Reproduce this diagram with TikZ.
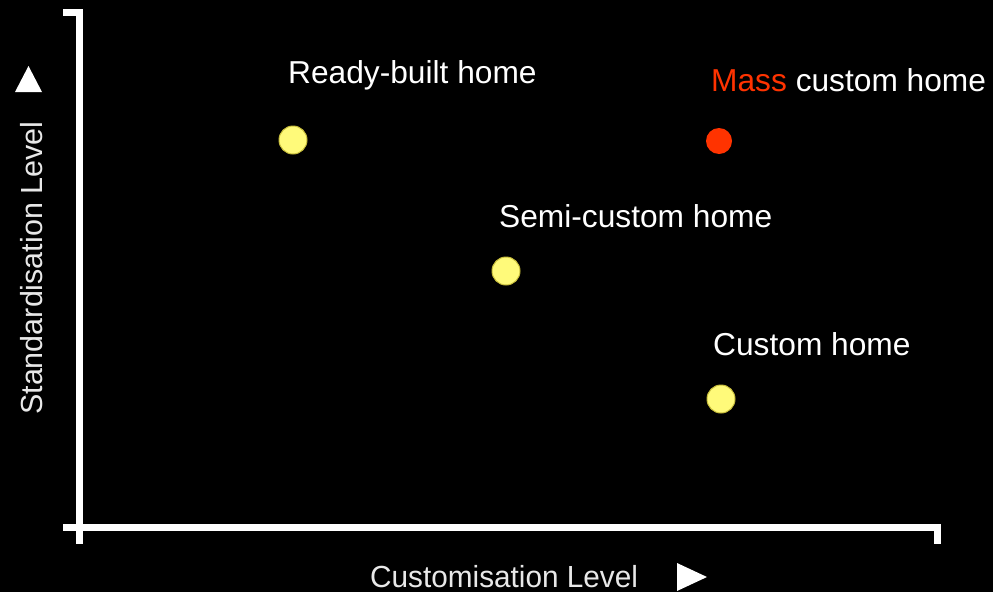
\documentclass[tikz,border=0pt]{standalone}
\usepackage{fontspec}
\setmainfont{Liberation Sans}
\definecolor{dotyellow}{RGB}{255,250,122}
\definecolor{dotedge}{RGB}{200,190,60}
\definecolor{massred}{RGB}{255,51,0}
\definecolor{axisgray}{RGB}{232,232,232}
\tikzset{
  axisline/.style={draw=white, line width=7pt, line join=miter},
  homelabel/.style={anchor=base west, inner sep=0pt, text=white,
    font=\fontsize{31.7}{38}\selectfont},
  axislabel/.style={inner sep=0pt, text=axisgray,
    font=\fontsize{30.5}{36}\selectfont},
  yellowdot/.style={circle, fill=dotyellow, draw=dotedge, line width=1pt,
    minimum size=28pt, inner sep=0pt},
  reddot/.style={circle, fill=massred, minimum size=26pt, inner sep=0pt},
  pointer/.style={fill=white, draw=none}
}
\begin{document}
\begin{tikzpicture}[x=1pt, y=-1pt]
  % canvas
  \fill[black] (0,0) rectangle (993,592);
  \useasboundingbox (0,0) rectangle (993,592);

  % axes
  \coordinate (ytop) at (63,12.5);
  \coordinate (ycorner) at (79.5,12.5);
  \coordinate (ybottom) at (79.5,544);
  \coordinate (xleft) at (63,527.5);
  \coordinate (xcorner) at (937.5,527.5);
  \coordinate (xend) at (937.5,544);
  \draw[axisline] (ytop) -- (ycorner) -- (ybottom);
  \draw[axisline] (xleft) -- (xcorner) -- (xend);

  % axis titles with their pointers
  \node[axislabel, rotate=90, anchor=base west] (ylab) at (42,415) {Standardisation Level};
  \fill[pointer] (15,92) -- (42,92) -- (28.5,66) -- cycle;
  \node[axislabel, anchor=base west] (xlab) at (370,587)
    {\scalebox{0.975}[1]{Customisation Level}};
  \fill[pointer] (677,563) -- (677,591) -- (707,577) -- cycle;

  % home types
  \node[yellowdot] (ready) at (293,140) {};
  \node[homelabel] (readylab) at (288,83) {Ready-built home};

  \node[reddot] (mass) at (719,141) {};
  \node[homelabel] (masslab) at (711,91) {\textcolor{massred}{Mass} custom home};

  \node[yellowdot] (semi) at (506,271) {};
  \node[homelabel] (semilab) at (499,227) {Semi-custom home};

  \node[yellowdot] (custom) at (721,399) {};
  \node[homelabel] (customlab) at (713,355) {Custom home};
\end{tikzpicture}
\end{document}
